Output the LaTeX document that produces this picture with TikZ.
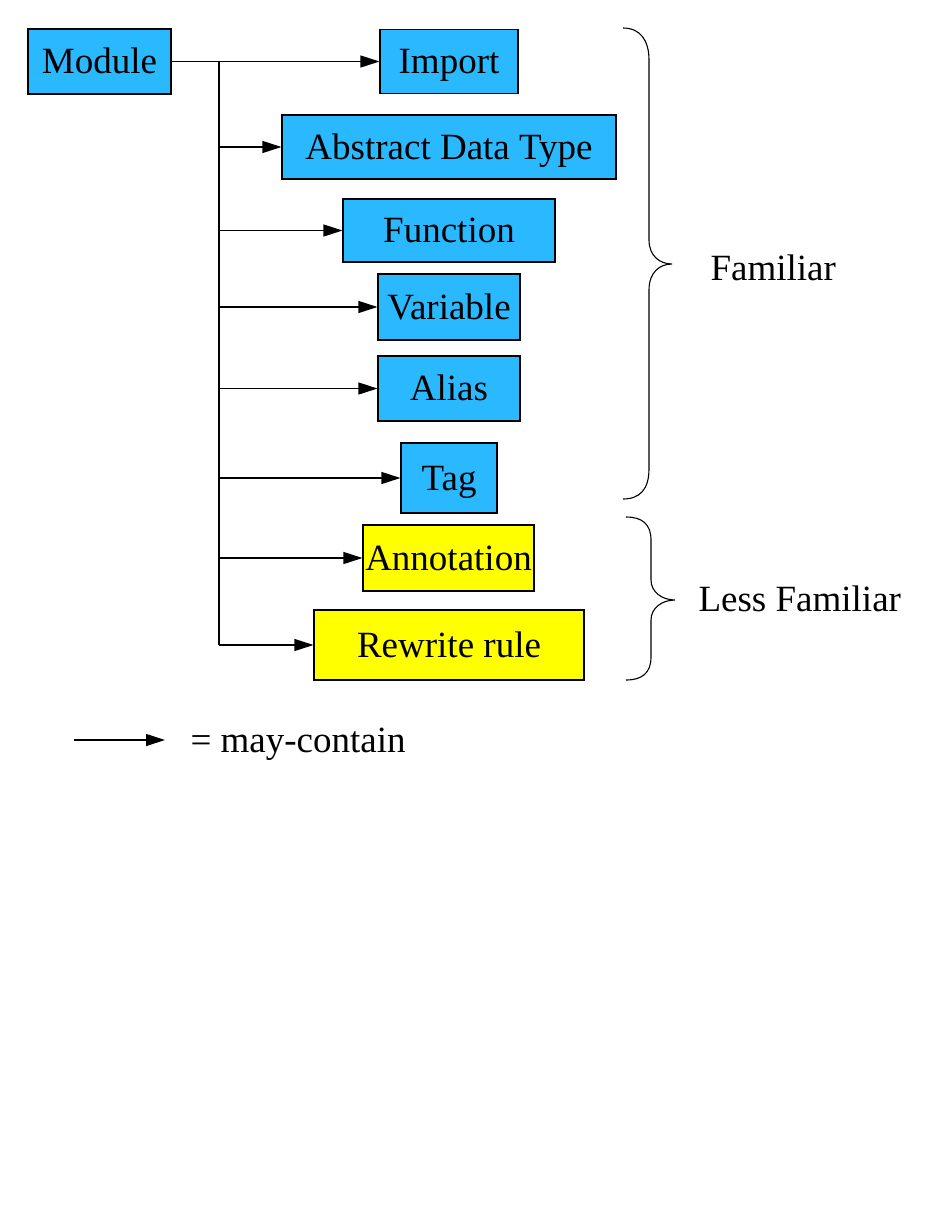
\documentclass[tikz,border=0pt]{standalone}
\usepackage{fontspec}
\setmainfont{Liberation Serif}
\usepackage{tikz}
\usetikzlibrary{arrows.meta}
\definecolor{boxblue}{RGB}{42,184,255}
\definecolor{boxyellow}{RGB}{255,255,0}

\begin{document}
\begin{tikzpicture}[x=1pt, y=-1pt, line width=1.1pt,
    label/.style={font=\fontsize{37}{40}\selectfont, text height=31pt, text depth=7pt},
    box/.style={label, draw, fill=boxblue, inner sep=0pt},
    newbox/.style={box, fill=boxyellow},
    contains/.style={-{Triangle[length=19pt,width=12pt]}}]
    \useasboundingbox (0,0) rectangle (952,1232);

    \node[box, minimum width=143, minimum height=65] (module) at (99.5,61.5) {Module};
    \node[box, minimum width=138, minimum height=64] (import) at (449,61.5) {Import};
    \node[box, minimum width=334, minimum height=64] (adt) at (449,147) {Abstract Data Type};
    \node[box, minimum width=212, minimum height=63] (function) at (449,230.5) {Function};
    \node[box, minimum width=142, minimum height=66] (variable) at (449,307) {Variable};
    \node[box, minimum width=142, minimum height=65] (alias) at (449,388.5) {Alias};
    \node[box, minimum width=96, minimum height=70] (tag) at (449,478) {Tag};
    \node[newbox, minimum width=171, minimum height=66] (annotation) at (448.5,558) {Annotation};
    \node[newbox, minimum width=270, minimum height=70] (rewrite) at (449,645) {Rewrite rule};

    \coordinate (trunktop) at (219,61.5);
    \coordinate (trunkbot) at (219,645);
    \draw (trunktop) -- (trunkbot);
    \draw[contains] (module.east) -- (import.west);
    \foreach \n in {adt,function,variable,alias,tag,annotation,rewrite}
        \draw[contains] (trunktop |- \n.west) -- (\n.west);

    % braces
    \draw (623,28) .. controls (640,28) and (649,40) .. (649,60) -- (649,240)
        .. controls (649,256) and (660,264) .. (672,264)
        .. controls (660,264) and (649,272) .. (649,290) -- (649,469)
        .. controls (649,489) and (640,499) .. (623,499);
    \draw (626,517) .. controls (642,517) and (651,524) .. (651,540) -- (651,580)
        .. controls (651,592) and (662,600) .. (675,600)
        .. controls (662,600) and (651,608) .. (651,620) -- (651,657)
        .. controls (651,673) and (642,680) .. (626,680);
    \node[label, anchor=west, inner sep=0pt] (familiar) at (710,268) {Familiar};
    \node[label, anchor=west, inner sep=0pt] (lessfamiliar) at (698,599) {Less Familiar};

    % legend
    \coordinate (legfrom) at (74,740);
    \coordinate (legto) at (165,740);
    \draw[contains] (legfrom) -- (legto);
    \node[label, anchor=west, inner sep=0pt] (legend) at (190,740) {= may-contain};
\end{tikzpicture}
\end{document}
